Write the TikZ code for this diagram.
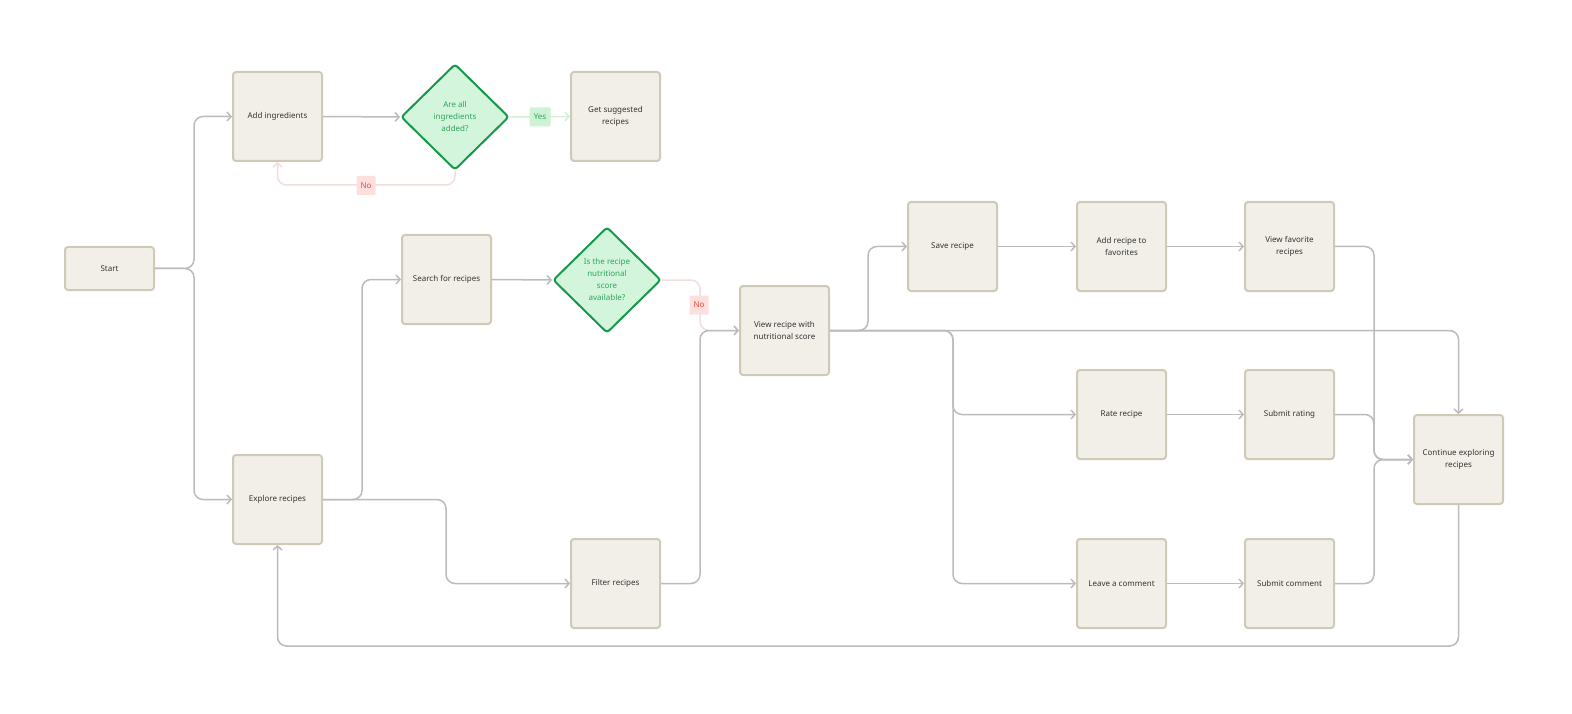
\documentclass[tikz,border=0pt]{standalone}
\usepackage{fontspec}
\setmainfont{Noto Sans}
\usetikzlibrary{arrows.meta,shapes.geometric}
\definecolor{nodefill}{HTML}{F1EFE8}
\definecolor{nodeborder}{HTML}{CFC9B8}
\definecolor{nodetext}{HTML}{333333}
\definecolor{edgec}{HTML}{BBBBBB}
\definecolor{decfill}{HTML}{D3F5DC}
\definecolor{decborder}{HTML}{17994A}
\definecolor{dectext}{HTML}{2BA55A}
\definecolor{yesline}{HTML}{D4EED9}
\definecolor{yesfill}{HTML}{CDF3D4}
\definecolor{noline}{HTML}{F0DEDC}
\definecolor{nofill}{HTML}{FDE0DE}
\definecolor{notext}{HTML}{E8483A}
\begin{document}
\begin{tikzpicture}[x=1pt,y=-1pt,
  box/.style={draw=nodeborder, fill=nodefill, line width=2pt, rounded corners=3pt,
    minimum width=89pt, minimum height=89pt, align=center, inner sep=0pt,
    font=\fontsize{8}{12}\selectfont, text=nodetext},
  dec/.style={diamond, draw=decborder, fill=decfill, line width=2pt, rounded corners=3pt,
    minimum width=108pt, minimum height=106pt, inner sep=0pt, align=center,
    font=\fontsize{8}{12}\selectfont, text=dectext},
  flow/.style={draw=edgec, line width=1.5pt, rounded corners=9pt,
    -{Straight Barb[length=4pt,width=9pt,line width=1.5pt]}},
  yesflow/.style={flow, draw=yesline},
  noflow/.style={flow, draw=noline},
  yeslab/.style={fill=yesfill, rounded corners=1pt, minimum width=21pt, minimum height=19pt,
    inner sep=0pt, text=dectext, font=\fontsize{8}{10}\selectfont},
  nolab/.style={fill=nofill, rounded corners=1pt, minimum width=19pt, minimum height=19pt,
    inner sep=0pt, text=notext, font=\fontsize{8}{10}\selectfont}
]
\useasboundingbox (0,0) rectangle (1572,714);

\node[box, minimum height=43pt] (start) at (109.5,268.5) {Start};
\node[box] (add) at (277.5,116.5) {Add ingredients};
\node[dec] (d1) at (455,117) {Are all\\ingredients\\added?};
\node[box] (get) at (615.5,116.5) {Get suggested\\recipes};
\node[box] (search) at (446.5,279.5) {Search for recipes};
\node[dec] (d2) at (607,280) {Is the recipe\\nutritional\\score\\available?};
\node[box] (view) at (784.5,330.5) {View recipe with\\nutritional score};
\node[box] (explore) at (277.5,499.5) {Explore recipes};
\node[box] (filter) at (615.5,583.5) {Filter recipes};
\node[box] (save) at (952.5,246.5) {Save recipe};
\node[box] (addfav) at (1121.5,246.5) {Add recipe to\\favorites};
\node[box] (viewfav) at (1289.5,246.5) {View favorite\\recipes};
\node[box] (rate) at (1121.5,414.5) {Rate recipe};
\node[box] (subrate) at (1289.5,414.5) {Submit rating};
\node[box] (leave) at (1121.5,583.5) {Leave a comment};
\node[box] (subcom) at (1289.5,583.5) {Submit comment};
\node[box] (cont) at (1458.5,459.5) {Continue exploring\\recipes};

\draw[flow] (start.east) -- (194,268.5) |- (add.west);
\draw[flow] (start.east) -- (194,268.5) |- (explore.west);
\draw[flow] (add.east) -- (d1.west);
\draw[yesflow] (d1.east) -- (get.west);
\draw[noflow] (d1.south) -- (455,185) -| (add.south);
\draw[flow] (explore.east) -- (362,499.5) |- (search.west);
\draw[flow] (explore.east) -- (446,499.5) |- (filter.west);
\draw[flow] (search.east) -- (d2.west);
\draw[noflow] (d2.east) -- (700,280) |- (view.west);
\draw[flow] (filter.east) -- (700,583.5) |- (view.west);
\draw[flow] (view.east) -- (868,330.5) |- (save.west);
\draw[flow] (view.east) -- (953,330.5) |- (rate.west);
\draw[flow] (view.east) -- (953,330.5) |- (leave.west);
\draw[flow] (view.east) -| (cont.north);
\draw[flow] (save.east) -- (addfav.west);
\draw[flow] (addfav.east) -- (viewfav.west);
\draw[flow] (rate.east) -- (subrate.west);
\draw[flow] (leave.east) -- (subcom.west);
\draw[flow] (viewfav.east) -- (1374,246.5) |- (cont.west);
\draw[flow] (subrate.east) -- (1374,414.5) |- (cont.west);
\draw[flow] (subcom.east) -- (1374,583.5) |- (cont.west);
\draw[flow] (cont.south) -- (1458.5,646) -| (explore.south);

\node[yeslab] (yes1) at (540,117) {Yes};
\node[nolab] (no1) at (366,185.5) {No};
\node[nolab] (no2) at (699,305) {No};
\end{tikzpicture}
\end{document}
